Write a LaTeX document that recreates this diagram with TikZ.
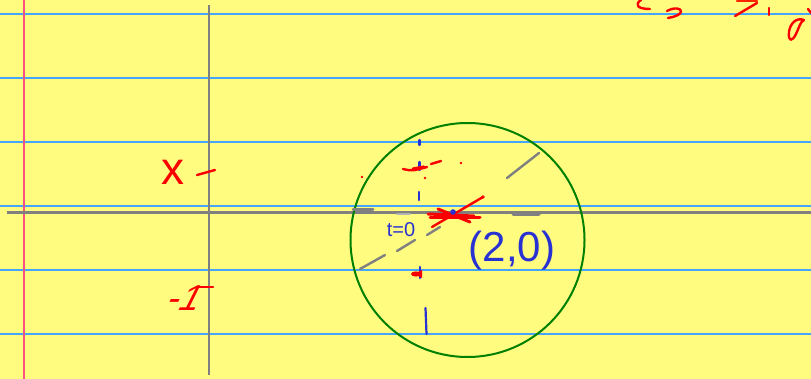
\documentclass[tikz,border=0pt]{standalone}
\usepackage{fontspec}
\setmainfont{Liberation Sans}
\begin{document}
\begin{tikzpicture}[x=1pt,y=-1pt,line cap=round,line join=round]
\definecolor{paper}{RGB}{255,252,128}
\definecolor{rule}{RGB}{70,165,250}
\definecolor{margin}{RGB}{250,80,130}
\definecolor{axisgray}{RGB}{128,128,128}
\definecolor{ink}{RGB}{250,0,0}
\definecolor{bink}{RGB}{40,50,210}
\definecolor{circ}{RGB}{0,128,0}
\tikzset{
  ruleline/.style={draw=rule,line width=1.6pt},
  axisline/.style={draw=axisgray,line width=2.6pt,line cap=butt},
  graystroke/.style={draw=axisgray,line width=2.4pt},
  redstroke/.style={draw=ink,line width=2.4pt},
  bluestroke/.style={draw=bink,line width=2.2pt},
  redtext/.style={text=ink,inner sep=0pt},
  bluetext/.style={text=bink,inner sep=0pt}
}
\fill[paper] (0,0) rectangle (811,379);
\useasboundingbox (0,0) rectangle (811,379);
% ruled lines
\foreach \yy in {14,78,142,206,270,334}{
  \draw[ruleline] (0,\yy) -- (811,\yy);
}
% margin
\draw[draw=margin,line width=2pt] (24,0) -- (24,379);
% axes
\draw[axisline] (7,212.5) -- (811,212.5);
\draw[axisline,line width=2.2pt] (209,5) -- (209,375);
% circle
\draw[draw=circ,line width=2pt] (467.5,240) circle[radius=117];
% gray diagonal dashes
\draw[graystroke] (360,269) -- (385,255);
\draw[graystroke] (397,251) -- (415,240);
\draw[graystroke] (427,235) -- (440,227);
\draw[graystroke] (507,178) -- (539,153);
% gray marks on axis
\draw[graystroke,line width=3pt] (353,210) -- (373,210);
\draw[graystroke,line width=3pt] (513,214.5) -- (539,214.5);
\draw[graystroke,draw=axisgray!60,line width=2pt] (397,214) -- (410,214);
% blue dashed vertical
\draw[bluestroke] (419.5,140) -- (419.5,145);
\draw[bluestroke] (419.5,162) -- (419.5,170);
\draw[bluestroke] (419,192) -- (419,200);
\draw[bluestroke] (420,267) -- (420,278);
\draw[bluestroke] (425.5,308) -- (426.5,334);
% red marks near top of vertical
\draw[redstroke] (403,169) .. controls (412,171) .. (427,167);
\draw[redstroke,line width=3.2pt] (413,169) -- (424,167);
\draw[redstroke] (431,164) -- (441,161);
\fill[ink] (461,163) circle[radius=1.3];
\fill[ink] (362,177) circle[radius=1.3];
\fill[ink] (425,178) circle[radius=1.3];
% red arrow blob lower
\fill[ink] (416,274) ellipse[x radius=5,y radius=2.6];
\fill[ink] (414,274) -- (422,270) -- (422,278) -- cycle;
% central red cross
\draw[redstroke,line width=3pt] (428,214) -- (474,216);
\draw[redstroke,line width=3pt] (430,218) -- (480,218);
\draw[redstroke,line width=3pt] (438,209) -- (470,222);
\draw[redstroke,line width=2.4pt] (432,227) -- (483,197);
\fill[ink] (483,197) circle[radius=1.8];
\fill[bink] (453,212) circle[radius=2.8];
% left axis labels
\node[redtext,font=\fontsize{46}{48}\selectfont] (xlab) at (173,172) {x};
\draw[redstroke] (197,175) -- (215,170);
\node[redtext,font=\fontsize{36}{38}\selectfont,xslant=0.5] (mlab) at (186,298) {-1};
\draw[redstroke] (199,287) -- (213,287);
% blue labels
\node[bluetext,font=\fontsize{20}{22}\selectfont] (tlab) at (401,230) {t=0};
\node[bluetext,font=\fontsize{42}{44}\selectfont] (plab) at (512,251) {(2,0)};
% top-right red scribbles (cut off)
\draw[redstroke] (641,0) .. controls (635,4) and (636,9) .. (650,9);
\draw[redstroke] (667,11) .. controls (674,7) and (682,8) .. (681,12) .. controls (680,15) and (674,17) .. (668,18);
\draw[redstroke,draw=ink!70!orange] (737,1) -- (757,1);
\draw[redstroke] (735,16) -- (757,3);
\draw[redstroke] (769,8) -- (769,15);
\draw[redstroke] (804,20) .. controls (796,17) and (790,24) .. (789,32) .. controls (788,42) and (792,42) .. (796,34) .. controls (799,28) and (800,22) .. (804,20);
\draw[redstroke] (808,9) -- (811,13);
\end{tikzpicture}
\end{document}
